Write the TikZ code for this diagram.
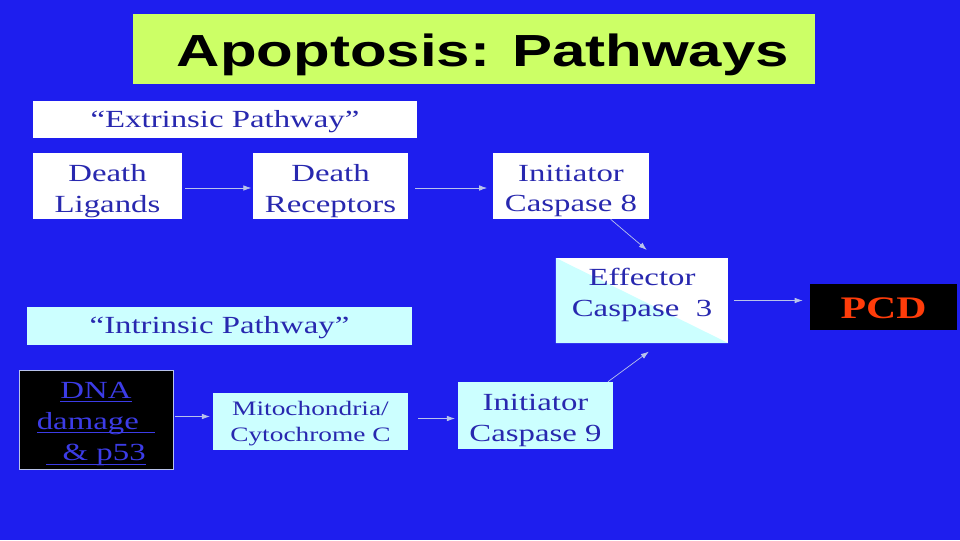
\documentclass[tikz,border=0pt]{standalone}
\usepackage{fontspec}
\setmainfont{Liberation Serif}[FakeStretch=1.333]
\newfontfamily\titlefont{Liberation Sans}[FakeStretch=1.333]
\usepackage{xcolor}
\usetikzlibrary{arrows.meta,calc}
\definecolor{slideblue}{RGB}{30,30,238}
\definecolor{boxtext}{RGB}{40,40,175}
\definecolor{titlegreen}{RGB}{204,255,102}
\definecolor{palecyan}{RGB}{204,255,255}
\definecolor{pcdred}{RGB}{255,60,10}
\definecolor{dnablue}{RGB}{60,60,230}
\definecolor{arrowgrey}{RGB}{185,195,235}
% underline at a fixed depth
\newcommand{\dnaline}[1]{\setbox0\hbox{#1}\rlap{\rule[-2.6pt]{\wd0}{0.6pt}}\box0}

\begin{document}
\begin{tikzpicture}[
x=0.025cm,
y=-0.025cm,
every node/.style={font=\fontsize{17.5}{22}\selectfont,text=boxtext,align=center,inner sep=0pt},
whitebox/.style={rectangle,fill=white},
cyanbox/.style={rectangle,fill=palecyan},
blackbox/.style={rectangle,fill=black},
splitbox/.style={rectangle,fill=white,path picture={\fill[palecyan] (path picture bounding box.north west) -- (path picture bounding box.south east) -- (path picture bounding box.south west) -- cycle;}},
head/.style={font=\titlefont\fontsize{32}{32}\selectfont\bfseries,text=black},
arr/.style={-{Latex[length=2mm,width=1.4mm]},draw=arrowgrey,line width=0.5pt}
]
% slide background
\fill[slideblue] (0,0) rectangle (960,540);
\useasboundingbox (0,0) rectangle (960,540);

% title
\node[rectangle,fill=titlegreen,minimum width=17.05cm,minimum height=1.75cm] (title) at (474,49) {};
\node[head] (titletext) at (483,55) {Apoptosis: Pathways};

% extrinsic pathway
\node[whitebox,minimum width=9.6cm,minimum height=0.925cm] (extr) at (225,119.5) {};
\node[whitebox,minimum width=3.725cm,minimum height=1.65cm] (ligands) at (107.5,186) {};
\node[whitebox,minimum width=3.875cm,minimum height=1.65cm] (receptors) at (330.5,186) {};
\node[whitebox,minimum width=3.9cm,minimum height=1.65cm] (casp8) at (571,186) {};
\node at (225,121.4) {``Extrinsic Pathway''};
\node at (107.5,190.8) {Death\\Ligands};
\node at (330.5,190.8) {Death\\Receptors};
\node at (571,191) {Initiator\\Caspase 8};

% effector and outcome
\node[splitbox,minimum width=4.3cm,minimum height=2.125cm] (casp3) at (642,300.5) {};
\node at (642,294.8) {Effector\\Caspase~~3};
\node[blackbox,minimum width=3.675cm,minimum height=1.15cm] (pcd) at (883.5,307) {};
\node[text=pcdred,font=\fontsize{22.3}{22.3}\selectfont\bfseries] at (883.5,308.5) {PCD};

% intrinsic pathway
\node[cyanbox,minimum width=9.625cm,minimum height=0.95cm] (intr) at (219.5,326) {};
\node[blackbox,draw=arrowgrey,line width=0.6pt,minimum width=3.85cm,minimum height=2.475cm] (dna) at (96,419.5) {};
\node[cyanbox,minimum width=4.875cm,minimum height=1.425cm] (mito) at (310.5,421.5) {};
\node[cyanbox,minimum width=3.875cm,minimum height=1.675cm] (casp9) at (535.5,415.5) {};
\node at (219.5,327.4) {``Intrinsic Pathway''};
\node[text=dnablue,font=\fontsize{17.5}{22.3}\selectfont] at (96,424) {\dnaline{DNA}\\\dnaline{damage\ \ }\\\dnaline{\ \ \& p53}};
\node[font=\fontsize{14.6}{18.4}\selectfont] at (310.5,423.2) {Mitochondria/\\Cytochrome C};
\node at (535.5,420) {Initiator\\Caspase 9};

% connectors
\draw[arr,shorten <=2pt,shorten >=1pt] ($(ligands.east)+(0,2)$) -- ($(receptors.west)+(0,2)$);
\draw[arr,shorten <=5pt,shorten >=4pt] ($(receptors.east)+(0,2)$) -- ($(casp8.west)+(0,2)$);
\draw[arr,shorten >=8.5pt] (casp8.-40) -- (casp3.72);
\draw[arr,shorten >=10pt] (casp9.25) -- (casp3.-67);
\draw[arr,shorten <=4pt,shorten >=5pt] (casp3.east) -- (casp3.east -| pcd.west);
\draw[arr,shorten <=1pt,shorten >=2pt] ($(dna.east)+(0,-3)$) -- ($(dna.east -| mito.west)+(0,-3)$);
\draw[arr,shorten <=7pt,shorten >=2pt] ($(mito.east)+(0,-3)$) -- ($(mito.east -| casp9.west)+(0,-3)$);
\end{tikzpicture}
\end{document}
